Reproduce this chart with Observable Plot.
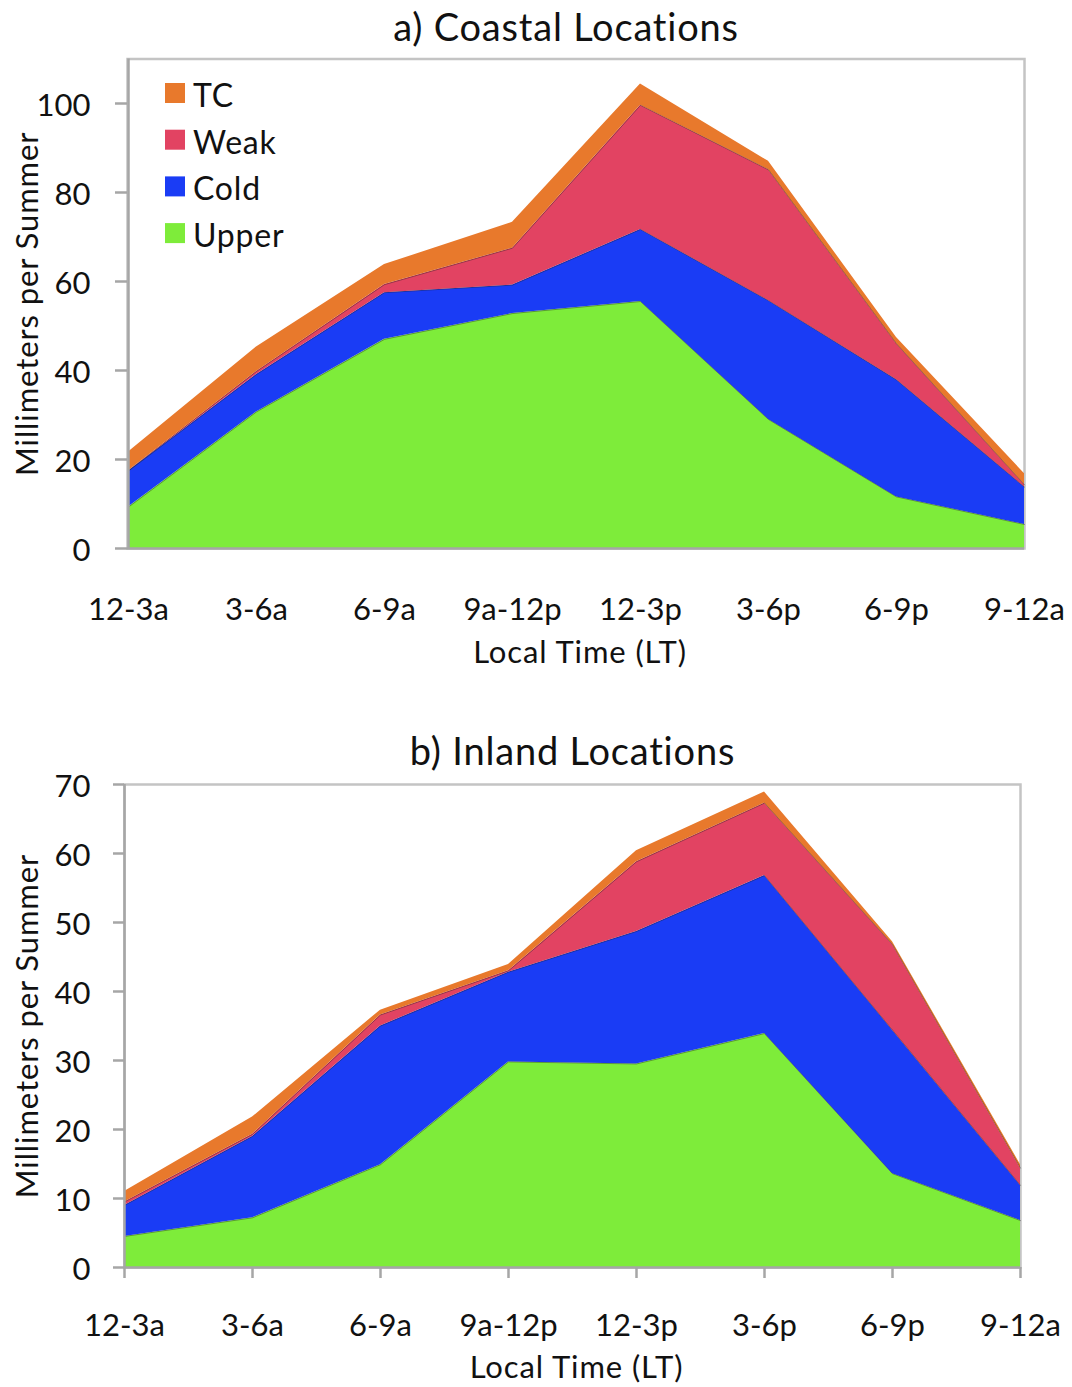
<!DOCTYPE html>
<html>
<head>
<meta charset="utf-8">
<script src="https://cdn.jsdelivr.net/npm/d3@7"></script>
<script src="https://cdn.jsdelivr.net/npm/@observablehq/plot@0.6"></script>
<style>
  body { margin: 0; background: #fff; }
  #wrap { position: relative; width: 1072px; height: 1387px; overflow: hidden; }
  #wrap > svg { display: block; }
  #legend { position: absolute; left: 0; top: 0; }
</style>
</head>
<body>
<div id="wrap"></div>
<script>
// Three-hour local-time bins
const times = ["12-3a", "3-6a", "6-9a", "9a-12p", "12-3p", "3-6p", "6-9p", "9-12a"];

// Rain type, stacked bottom to top
const series = ["Upper", "Cold", "Weak", "TC"];
const colors = ["#7eec3a", "#1a3cf5", "#e24362", "#e8792c"];

// a) Coastal locations, mm per summer
const coastalUpper = [9.3, 30.7, 47.0, 52.8, 55.5, 29.0, 11.6, 5.4];
const coastalCold  = [8.1, 8.4, 10.5, 6.4, 16.2, 26.7, 26.3, 8.4];
const coastalWeak  = [0.1, 0.7, 1.8, 8.3, 27.9, 29.4, 8.1, 0.5];
const coastalTC    = [4.2, 5.5, 4.5, 5.8, 4.8, 1.9, 1.4, 2.5];

// b) Inland locations, mm per summer
const inlandUpper = [4.5, 7.2, 14.9, 29.8, 29.5, 33.9, 13.6, 6.8];
const inlandCold  = [4.5, 11.8, 20.1, 13.0, 19.2, 22.9, 20.8, 5.1];
const inlandWeak  = [0.5, 0.3, 1.6, 0.2, 10.1, 10.5, 12.4, 2.5];
const inlandTC    = [1.5, 2.5, 0.7, 0.9, 1.6, 1.6, 0.4, 0.5];

const coastalTicks = [0, 20, 40, 60, 80, 100];
const inlandTicks = [0, 10, 20, 30, 40, 50, 60, 70];

const xTitle = "Local Time (LT)";
const yTitle = "Millimeters per Summer";

function toRows(bySeries) {
  const rows = [];
  series.forEach((s, k) => {
    bySeries[k].forEach((v, i) => rows.push({time: times[i], type: s, value: v}));
  });
  return rows;
}

const axisGray = "#a6a6a6";
const ink = "#111";
const font = "Lato, 'Open Sans', sans-serif";

function panel(o) {
  const rows = toRows(o.values);
  const svg = Plot.plot({
    width: 1072,
    height: o.height,
    marginTop: o.mt,
    marginBottom: o.mb,
    marginLeft: o.ml,
    marginRight: o.mr,
    style: {fontFamily: font, fontSize: "31px", color: ink, background: "white", overflow: "visible"},
    x: {type: "point", domain: times, padding: 0, label: null},
    y: {domain: [0, o.yMax], label: null},
    color: {domain: series, range: colors},
    marks: [
      Plot.frame({stroke: "#c4c4c4", strokeWidth: 2.5}),
      Plot.areaY(rows, {x: "time", y: "value", fill: "type", order: series}),
      // thin dark edge along the top of each lower layer
      Plot.lineY(rows.filter(d => d.type !== "TC"),
        Plot.stackY2({x: "time", y: "value", z: "type", order: series,
          stroke: "#222", strokeOpacity: 0.4, strokeWidth: 1})),
      Plot.ruleY([0], {stroke: axisGray, strokeWidth: 2.5}),
      Plot.ruleX([times[0]], {stroke: axisGray, strokeWidth: 2.5}),
      // y ticks and labels
      Plot.axisY({ticks: o.yTicks, tickSize: o.yTickSize, tickFormat: () => "",
        stroke: axisGray, strokeWidth: 2.5, label: null}),
      Plot.axisY({ticks: o.yTicks, tickSize: 0, tickPadding: o.yLabelGap, dy: 3,
        fill: ink, fontSize: 31, label: null}),
      // x ticks and labels
      Plot.axisX({tickSize: o.xTickSize, tickPadding: o.xTickPad,
        stroke: axisGray, strokeWidth: 2.5, fill: ink, fontSize: 31, label: null}),
      Plot.text([xTitle], {frameAnchor: "bottom", lineAnchor: "middle", textAnchor: "middle",
        dy: o.xLabelDy, dx: o.xLabelDx, fontSize: 31, fill: ink}),
      Plot.text([yTitle], {frameAnchor: "left", lineAnchor: "middle", textAnchor: "middle",
        rotate: -90, dx: o.yLabelDx, fontSize: 31, fill: ink}),
      Plot.text([o.title], {frameAnchor: "top", lineAnchor: "middle", textAnchor: "middle",
        dx: o.titleDx, dy: o.titleDy, fontSize: 38, fill: ink})
    ]
  });
  // slightly open letter spacing on the titles
  svg.querySelectorAll("text").forEach(t => {
    const s = t.textContent;
    if (s === o.title) t.style.letterSpacing = "0.8px";
    else if (s === xTitle || s === yTitle) t.style.letterSpacing = "0.9px";
  });
  return svg;
}

const wrap = document.getElementById("wrap");

wrap.appendChild(panel({
  values: [coastalUpper, coastalCold, coastalWeak, coastalTC],
  height: 690, mt: 58.5, mb: 142, ml: 127, mr: 48,
  yMax: 110, yTicks: coastalTicks, yTickSize: 12, yLabelGap: 37,
  xTickSize: 0, xTickPad: 49, xLabelDy: 105, xLabelDx: 4,
  yLabelDx: -99,
  title: "a) Coastal Locations", titleDx: -10, titleDy: -30
}));

wrap.appendChild(panel({
  values: [inlandUpper, inlandCold, inlandWeak, inlandTC],
  height: 697, mt: 94, mb: 120, ml: 124, mr: 52,
  yMax: 70, yTicks: inlandTicks, yTickSize: 11, yLabelGap: 34,
  xTickSize: 11, xTickPad: 35, xLabelDy: 101, xLabelDx: 4,
  yLabelDx: -96,
  title: "b) Inland Locations", titleDx: 0, titleDy: -32
}));

// Legend in the upper-left corner of the coastal panel
const legendOrder = ["TC", "Weak", "Cold", "Upper"];
const legend = d3.create("svg")
  .attr("id", "legend")
  .attr("width", 400).attr("height", 270)
  .style("font-family", font).style("font-size", "32px");
const item = legend.selectAll("g").data(legendOrder).join("g")
  .attr("transform", (d, i) => `translate(165,${83 + i * 46.7})`);
item.append("rect").attr("width", 20).attr("height", 20)
  .attr("fill", d => colors[series.indexOf(d)]);
item.append("text").attr("x", 28).attr("y", 24).attr("fill", ink)
  .style("letter-spacing", "0.8px").text(d => d);
wrap.appendChild(legend.node());
</script>
</body>
</html>
